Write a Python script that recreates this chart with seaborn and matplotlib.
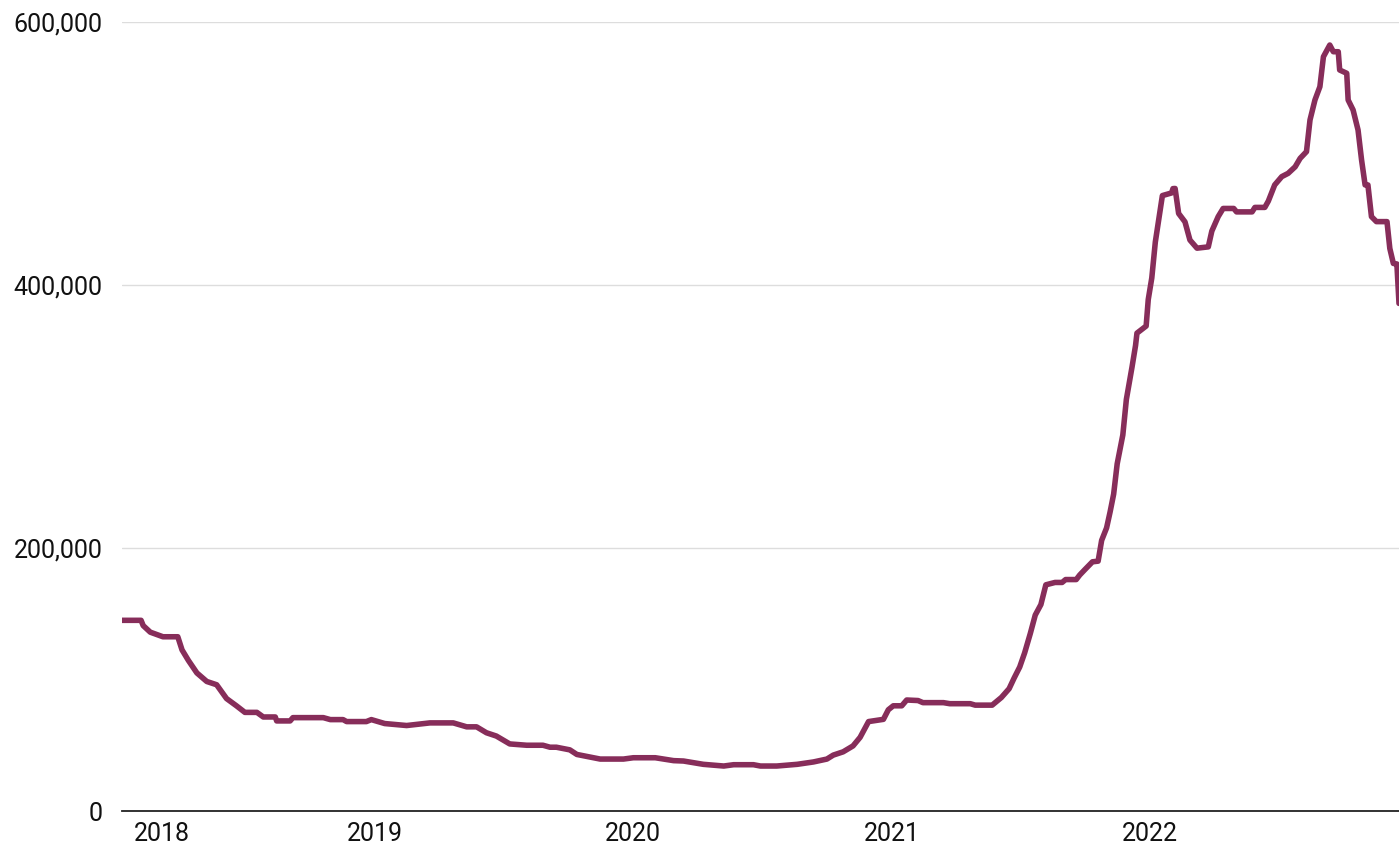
import pandas as pd
import seaborn as sns
import matplotlib.pyplot as plt
import matplotlib.transforms as mtransforms
from matplotlib.ticker import FuncFormatter

# --- Data ---
dates = [
    "2018-03-05", "2018-04-01", "2018-04-04", "2018-04-14", "2018-05-02", "2018-05-23",
    "2018-05-29", "2018-06-07", "2018-06-19", "2018-07-03", "2018-07-17", "2018-07-31",
    "2018-08-14", "2018-08-26", "2018-09-12", "2018-09-21", "2018-10-08", "2018-10-10",
    "2018-10-29", "2018-11-02", "2018-12-15", "2018-12-25", "2019-01-12", "2019-01-17",
    "2019-02-14", "2019-02-21", "2019-03-12", "2019-04-12", "2019-05-15", "2019-06-17",
    "2019-07-06", "2019-07-20", "2019-08-03", "2019-08-17", "2019-09-05", "2019-09-29",
    "2019-10-22", "2019-11-01", "2019-11-10", "2019-11-29", "2019-12-09", "2019-12-23",
    "2020-01-11", "2020-02-13", "2020-02-27", "2020-03-29", "2020-04-24", "2020-05-08",
    "2020-06-05", "2020-07-04", "2020-07-18", "2020-08-15", "2020-08-25", "2020-09-17",
    "2020-10-16", "2020-11-08", "2020-11-27", "2020-12-06", "2020-12-20", "2021-01-03",
    "2021-01-13", "2021-01-25", "2021-02-15", "2021-02-22", "2021-03-01", "2021-03-13",
    "2021-03-20", "2021-04-05", "2021-04-12", "2021-05-11", "2021-05-20", "2021-06-18",
    "2021-06-25", "2021-07-19", "2021-08-01", "2021-08-12", "2021-08-19", "2021-08-27",
    "2021-09-03", "2021-09-11", "2021-09-18", "2021-09-26", "2021-10-03", "2021-10-16",
    "2021-10-26", "2021-10-31", "2021-11-15", "2021-11-20", "2021-11-28", "2021-12-08",
    "2021-12-16", "2021-12-21", "2021-12-28", "2022-01-02", "2022-01-07", "2022-01-12",
    "2022-01-20", "2022-01-25", "2022-02-02", "2022-02-07", "2022-02-09", "2022-02-22",
    "2022-02-25", "2022-03-02", "2022-03-07", "2022-03-12", "2022-03-17", "2022-03-30",
    "2022-04-01", "2022-04-04", "2022-04-09", "2022-04-18", "2022-04-25", "2022-05-05",
    "2022-05-21", "2022-05-26", "2022-06-04", "2022-06-11", "2022-06-26", "2022-06-30",
    "2022-07-22", "2022-07-26", "2022-08-09", "2022-08-14", "2022-08-23", "2022-09-02",
    "2022-09-11", "2022-09-21", "2022-09-28", "2022-10-07", "2022-10-12", "2022-10-19",
    "2022-10-26", "2022-10-31", "2022-11-09", "2022-11-14", "2022-11-21", "2022-11-23",
    "2022-12-03", "2022-12-05", "2022-12-12", "2022-12-19", "2022-12-24", "2022-12-29",
    "2023-01-02", "2023-01-07", "2023-01-14", "2023-01-29", "2023-02-02", "2023-02-07",
    "2023-02-12", "2023-02-15",
]
values = [
    145000, 145000, 141000, 136000, 132500, 132500,
    122500, 114500, 105000, 98500, 96000, 85500,
    80000, 75000, 75000, 71500, 71500, 68500,
    68500, 71000, 71000, 69500, 69500, 68000,
    68000, 69500, 66500, 65000, 67000, 67000,
    64000, 64000, 59500, 57000, 51000, 50000,
    50000, 48500, 48500, 46500, 43000, 41500,
    39500, 39500, 40500, 40500, 38300, 38000,
    35500, 34200, 35200, 35200, 34200, 34200,
    35500, 37300, 39500, 42500, 45000, 49500,
    56000, 68000, 69700, 77000, 80000, 80000,
    84400, 84000, 82400, 82400, 81600, 81600,
    80500, 80500, 86300, 93000, 101000, 109500,
    120300, 135000, 149000, 157000, 172000, 173800,
    173800, 176000, 176000, 179500, 184000, 189500,
    190000, 205800, 215300, 227500, 241000, 264000,
    286000, 313000, 337600, 354000, 363400, 368800,
    389000, 405400, 432700, 450300, 468000, 470000,
    473300, 473400, 454400, 448000, 434200, 428000,
    429000, 441000, 452000, 458200, 458200, 455600,
    455600, 459000, 459000, 463800, 476100, 482400,
    484900, 489900, 496300, 501400, 525500, 540700,
    550800, 573600, 582500, 577400, 577400, 563500,
    561000, 540700, 533100, 517900, 495100, 476100,
    476100, 452000, 448200, 448200, 427800, 416400,
    416000, 386000,
]

tick_dates = ["2018-03-05", "2019-01-01", "2020-01-01", "2021-01-01", "2022-01-01"]
tick_labels = ["2018", "2019", "2020", "2021", "2022"]
y_ticks = [0, 200000, 400000, 600000]

LINE_COLOR = "#872d5a"


def main():
    df = pd.DataFrame({"date": pd.to_datetime(dates), "value": values})

    sns.set_style("white")
    # narrow face if present, else Roboto
    plt.rcParams["font.family"] = ["Liberation Sans Narrow", "Roboto", "DejaVu Sans"]

    fig = plt.figure(figsize=(13.99, 8.47), dpi=100)
    ax = fig.add_axes([122 / 1399, 36 / 847, 1 - 122 / 1399, 789 / 847])

    sns.lineplot(data=df, x="date", y="value", ax=ax, color=LINE_COLOR,
                 linewidth=4.0, solid_capstyle="round", solid_joinstyle="round")

    ax.set_xlim(pd.Timestamp("2018-03-05"), pd.Timestamp("2023-02-15"))
    ax.set_ylim(0, 600000)

    # horizontal gridlines only
    ax.set_yticks(y_ticks)
    ax.yaxis.set_major_formatter(FuncFormatter(lambda v, _: f"{int(v):,}"))
    ax.grid(axis="y", color="#dddddd", linewidth=1.0)
    ax.grid(axis="x", visible=False)
    ax.set_axisbelow(True)

    ax.set_xticks(pd.to_datetime(tick_dates))
    ax.set_xticklabels(tick_labels)

    for side in ["top", "right", "left"]:
        ax.spines[side].set_visible(False)
    ax.spines["bottom"].set_color("#222222")
    ax.spines["bottom"].set_linewidth(1.3)
    ax.spines["bottom"].set_zorder(5)

    ax.tick_params(axis="x", direction="out", length=11, width=1.3, color="#222222",
                   labelsize=18, labelcolor="#111111", pad=-3)
    ax.tick_params(axis="y", length=0, labelsize=18, labelcolor="#111111", pad=14)

    # year labels sit to the right of their ticks
    offset = mtransforms.ScaledTranslation(12 / 100, 0, fig.dpi_scale_trans)
    for label in ax.get_xticklabels():
        label.set_horizontalalignment("left")
        label.set_transform(label.get_transform() + offset)

    ax.set_xlabel("")
    ax.set_ylabel("")

    fig.savefig("out.png", dpi=100)
    plt.close(fig)


if __name__ == "__main__":
    main()
